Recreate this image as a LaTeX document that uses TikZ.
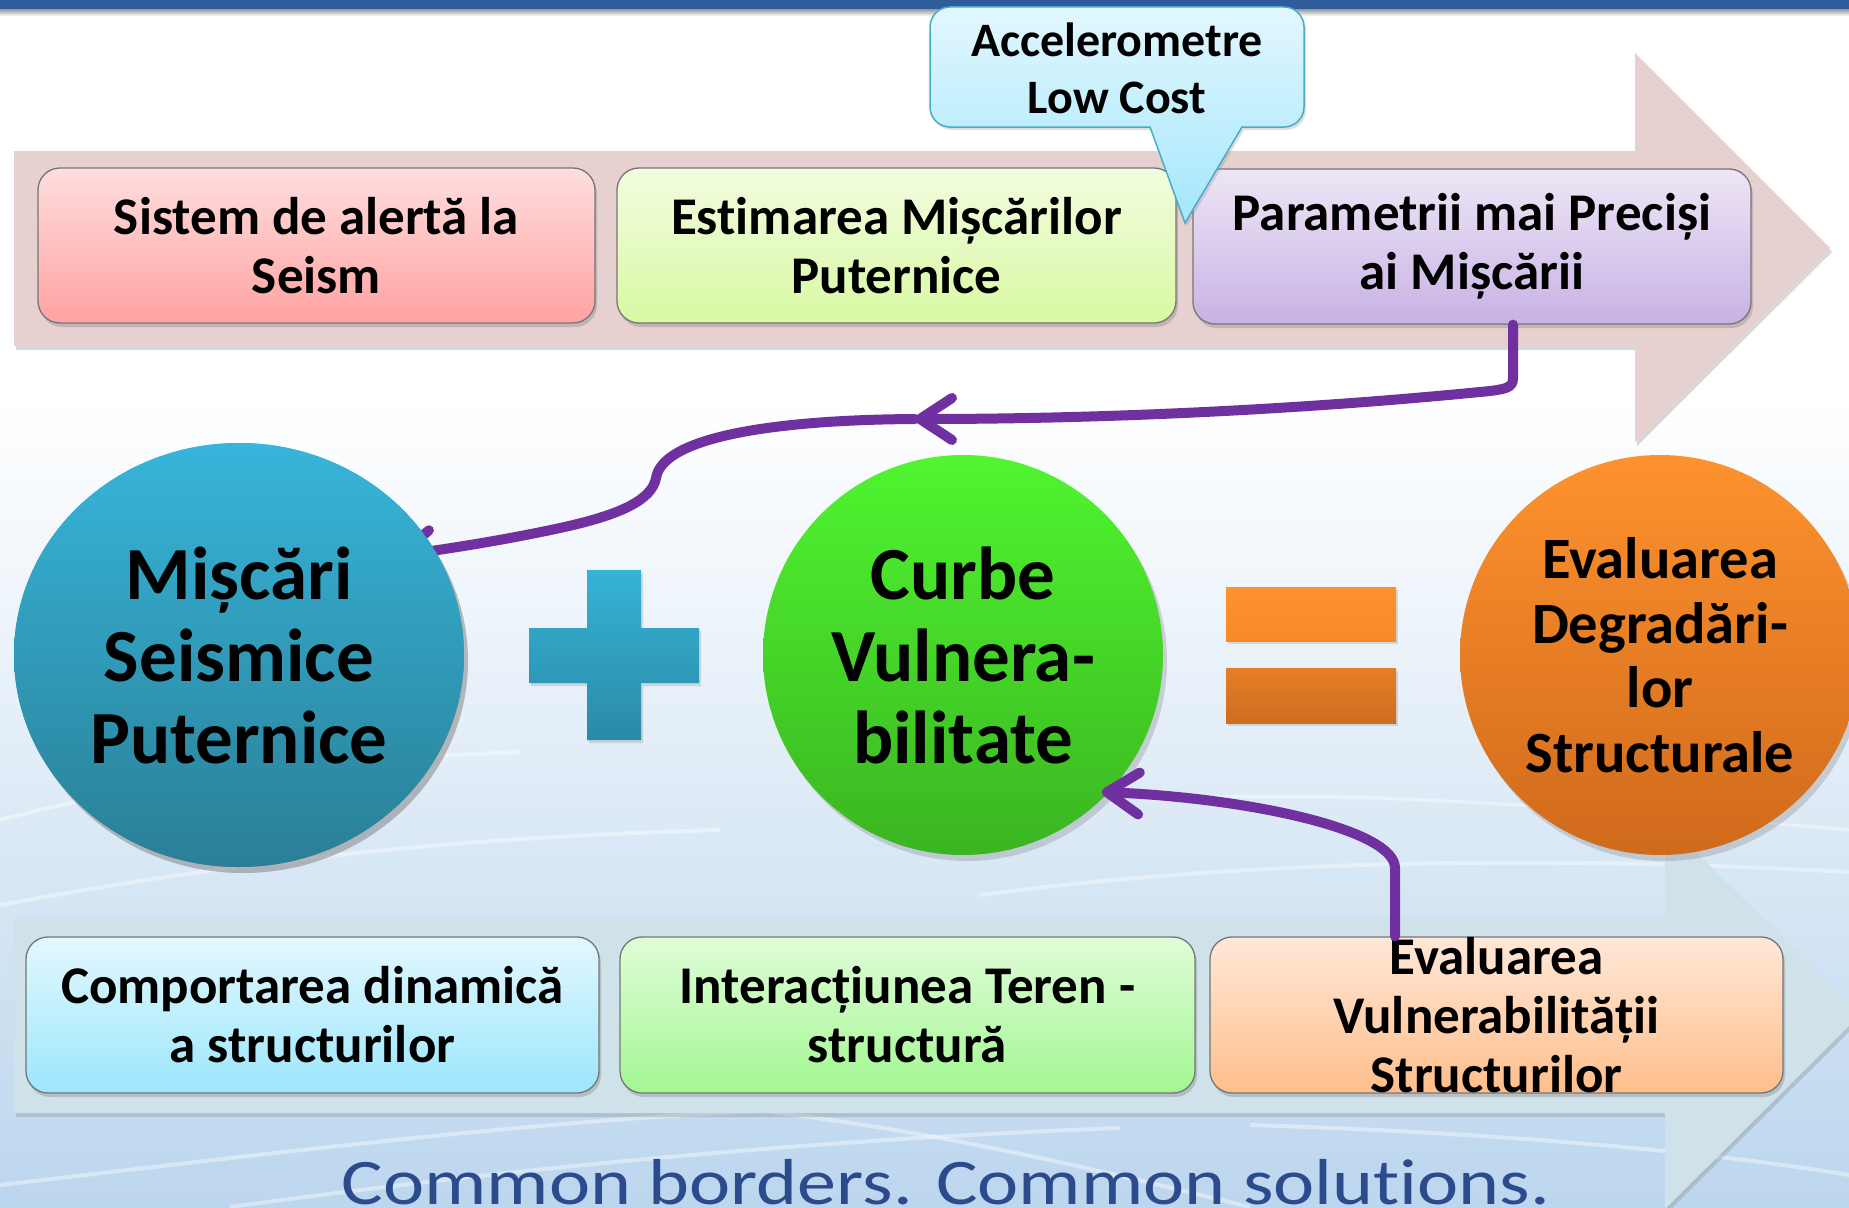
\documentclass[tikz,border=0pt]{standalone}
\usepackage{fontspec}
\setmainfont{Carlito}[Ligatures=NoCommon]
\usetikzlibrary{shapes.geometric,shadows,arrows.meta}
\definecolor{purp}{HTML}{7030A0}
\definecolor{topbar}{HTML}{2E5D99}
\definecolor{arrA}{HTML}{E6D0D0}
\definecolor{arrB}{HTML}{CFE1E9}
\definecolor{boxline}{HTML}{767676}
\definecolor{bAt}{HTML}{FFDEDE}\definecolor{bAb}{HTML}{FFA2A2}
\definecolor{bBt}{HTML}{F2FCE0}\definecolor{bBb}{HTML}{D9F9A2}
\definecolor{bCt}{HTML}{EEE6F6}\definecolor{bCb}{HTML}{C7B2E4}
\definecolor{bDt}{HTML}{E2F8FE}\definecolor{bDb}{HTML}{9CE6FC}
\definecolor{bEt}{HTML}{E0FCD8}\definecolor{bEb}{HTML}{A2F892}
\definecolor{bFt}{HTML}{FFE8D8}\definecolor{bFb}{HTML}{FFBE8A}
\definecolor{calT}{HTML}{E2F7FE}\definecolor{calB}{HTML}{A4E6FC}\definecolor{calL}{HTML}{4BACC6}
\definecolor{cAt}{HTML}{37B5DA}\definecolor{cAb}{HTML}{2A7F96}
\definecolor{cBt}{HTML}{50F530}\definecolor{cBb}{HTML}{3BB521}
\definecolor{cCt}{HTML}{FE922E}\definecolor{cCb}{HTML}{D06A1C}
\definecolor{plT}{HTML}{36B3D6}\definecolor{plB}{HTML}{2A8AA6}
\definecolor{eqAt}{HTML}{FD922E}\definecolor{eqAb}{HTML}{F88A2A}
\definecolor{eqBt}{HTML}{E47F26}\definecolor{eqBb}{HTML}{D06C1E}
\definecolor{bgmid}{HTML}{E9F2F9}\definecolor{bgbot}{HTML}{BCD6EE}
\definecolor{slogan}{HTML}{2B4B8C}
\newcommand\bxfont{\bfseries\fontsize{53}{59}\selectfont}
\newcommand\cfont{\bfseries\fontsize{75}{82}\selectfont}
\newcommand\cfontsm{\bfseries\fontsize{58.5}{64.5}\selectfont}
\newcommand\calfont{\bfseries\fontsize{48}{57}\selectfont}
\begin{document}
\begin{tikzpicture}[x=1pt,y=-1pt,
  bx/.style={rounded corners=22pt, draw=boxline, line width=1.3pt, minimum height=155pt,
    inner sep=0pt, align=center, font=\bxfont,
    drop shadow={shadow xshift=2pt, shadow yshift=-4pt, opacity=.35}},
  ell/.style={ellipse, inner sep=0pt,
    drop shadow={shadow xshift=4pt, shadow yshift=-6pt, opacity=.3}},
  ctext/.style={align=center, inner sep=0pt, font=\cfont},
  bigarrow/.style={drop shadow={shadow xshift=2pt, shadow yshift=-4pt, opacity=.3}},
  conn/.style={draw=purp, line width=10pt, line cap=round, line join=round},
  tipb/.style={-{Straight Barb[length=32pt,width=42pt,round]}},
  wave/.style={draw=white, opacity=.4, line width=4pt},
  flat/.style={drop shadow={shadow xshift=2pt, shadow yshift=-3pt, opacity=.25}}]
\useasboundingbox (0,0) rectangle (1849,1207);
\clip (0,0) rectangle (1849,1207);
% background
\fill[white] (0,0) rectangle (1849,420);
\shade[top color=white, middle color=bgmid, bottom color=bgbot] (0,400) rectangle (1849,1207);
\draw[wave] (0,1185) .. controls (300,1150) and (600,1112) .. (860,1108);
\draw[wave] (230,1207) .. controls (500,1170) and (800,1140) .. (1120,1128);
\draw[wave] (770,1112) .. controls (920,1130) and (1060,1160) .. (1250,1207);
\draw[wave] (1250,1125) .. controls (1480,1132) and (1700,1150) .. (1849,1175);
\draw[wave] (0,905) .. controls (200,868) and (420,838) .. (720,830);
\draw[wave] (980,895) .. controls (1200,866) and (1480,852) .. (1849,872);
\draw[wave] (0,820) .. controls (150,780) and (320,760) .. (520,752);
\draw[wave, line width=3pt] (1150,800) .. controls (1300,790) and (1500,800) .. (1849,830);
% top bar
\fill[topbar] (0,0) rectangle (1849,10);
\shade[top color=black!35, bottom color=white] (0,10) rectangle (1849,16);
% big arrows
\path[bigarrow, fill=arrA] (14,151) -- (1635,151) -- (1635,53) -- (1830,248) -- (1635,442) -- (1635,346) -- (14,346) -- cycle;
\path[bigarrow, fill=arrB] (14,917) -- (1665,917) -- (1665,821) -- (1860,1015) -- (1665,1209) -- (1665,1113) -- (14,1113) -- cycle;
% boxes, top row
\node[bx, minimum width=557pt, top color=bAt, bottom color=bAb] (b1) at (316.5,245.5) {Sistem de alertă la\\Seism};
\node[bx, minimum width=559pt, top color=bBt, bottom color=bBb] (b2) at (896.5,245.5) {Estimarea Mișcărilor\\Puternice};
\node[bx, minimum width=558pt, top color=bCt, bottom color=bCb] (b3) at (1472,246.5) {Parametrii mai Preciși\\ai Mișcării};
% boxes, bottom row
\node[bx, minimum width=573pt, minimum height=156pt, top color=bDt, bottom color=bDb] (b4) at (312.5,1015) {Comportarea dinamică\\a structurilor};
\node[bx, minimum width=575pt, minimum height=156pt, top color=bEt, bottom color=bEb] (b5) at (907.5,1015) {Interacțiunea Teren -\\structură};
\node[bx, minimum width=573pt, minimum height=156pt, top color=bFt, bottom color=bFb] (b6) at (1496.5,1015) {Evaluarea\\Vulnerabilității\\Structurilor};
% callout
\path[draw=calL, line width=1.5pt, top color=calT, bottom color=calB, flat]
  (950,7) -- (1284,7) arc[start angle=90, end angle=0, radius=20pt] -- (1304,107)
  arc[start angle=0, end angle=-90, radius=20pt] -- (1242,127) -- (1185,223) -- (1150,127)
  -- (950,127) arc[start angle=270, end angle=180, radius=20pt] -- (930,27)
  arc[start angle=180, end angle=90, radius=20pt] -- cycle;
\node[align=center, inner sep=0pt, font=\calfont] (cal) at (1117,68) {Accelerometre\\Low Cost};
% connector from box 3 to circle 1
\coordinate (m1) at (915,419);
\draw[conn, tipb] ([xshift=41pt]b3.south) -- ++(0,54) .. controls +(0,9) and (1505,389) .. (1490,391)
  .. controls (1300,410) and (1100,419) .. (m1);
% plus and equals
\path[flat, top color=plT, bottom color=plB] (587,570) -- (641,570) -- (641,628) -- (699,628) -- (699,683)
  -- (641,683) -- (641,740) -- (587,740) -- (587,683) -- (529,683) -- (529,628) -- (587,628) -- cycle;
\path[flat, top color=eqAt, bottom color=eqAb] (1226,587) rectangle (1396,641);
\path[flat, top color=eqBt, bottom color=eqBb] (1226,668) rectangle (1396,723);
% circles
\node[ell, minimum width=450pt, minimum height=424pt, top color=cAt, bottom color=cAb] (c1) at (239,655) {};
\draw[conn, tipb] (m1) .. controls (760,420) and (662,440) .. (656,478)
  .. controls (652,500) and (620,515) .. (560,528) .. controls (500,541) and (440,550) .. ([shift={(156,-99)}]c1.center);
\node[ell, minimum width=450pt, minimum height=424pt, top color=cAt, bottom color=cAb] (c1b) at (239,655) {};
\node[ctext] (c1t) at (c1.center) {Mișcări\\Seismice\\Puternice};
\node[ell, minimum width=400pt, minimum height=400pt, top color=cBt, bottom color=cBb] (c2) at (963,655) {};
\node[ctext] (c2t) at (c2.center) {Curbe\\Vulnera-\\bilitate};
\node[ell, minimum width=400pt, minimum height=400pt, top color=cCt, bottom color=cCb] (c3) at (1660,655) {};
\node[ctext, font=\cfontsm] (c3t) at (c3.center) {Evaluarea\\Degradări-\\lor\\Structurale};
% connector from box 6 to circle 2
\draw[conn, tipb] ([xshift=-101.5pt]b6.north) -- (1395,868) .. controls (1395,830) and (1250,798) .. ([shift={(139,137)}]c2.center);
% slogan
\node[anchor=base, inner sep=0pt, text=slogan, font=\fontsize{65}{70}\selectfont] (slog) at (946,1204) {\scalebox{1.2}[1]{Common borders. Common solutions.}};
\end{tikzpicture}
\end{document}
